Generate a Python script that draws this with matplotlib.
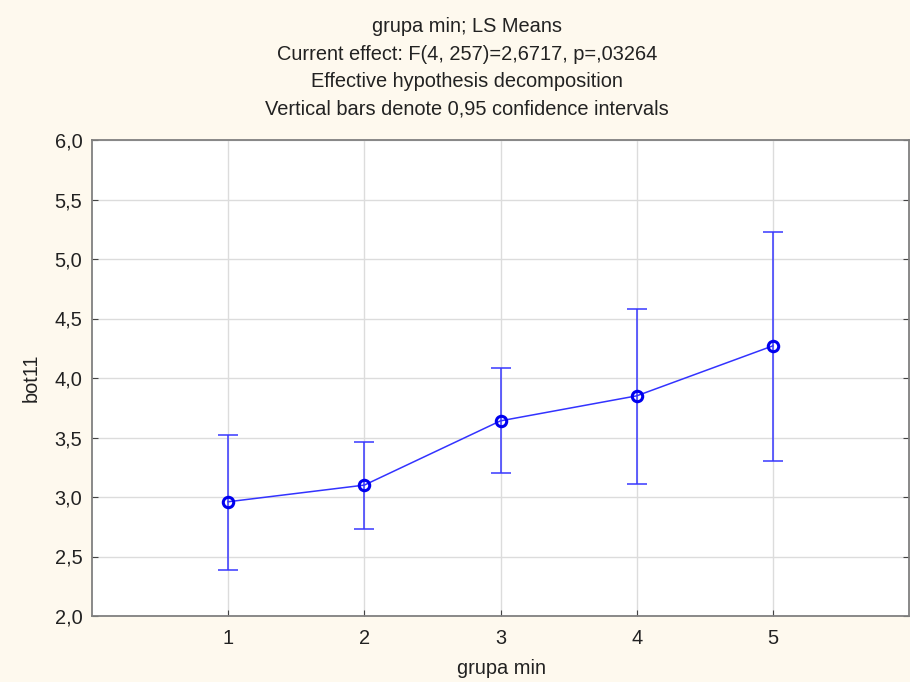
import matplotlib
matplotlib.use("Agg")
import matplotlib.pyplot as plt
from matplotlib.ticker import FuncFormatter

groups = [1, 2, 3, 4, 5]
means = [2.96, 3.10, 3.64, 3.85, 4.27]
upper = [3.52, 3.46, 4.08, 4.58, 5.23]
lower = [2.39, 2.73, 3.20, 3.11, 3.30]

title_lines = ["grupa min; LS Means",
               "Current effect: F(4, 257)=2,6717, p=,03264",
               "Effective hypothesis decomposition",
               "Vertical bars denote 0,95 confidence intervals"]

plt.rcParams['font.family'] = ['Liberation Sans', 'DejaVu Sans']
FS = 14.4

fig = plt.figure(figsize=(9.1, 6.82), dpi=100)
fig.patch.set_facecolor('#FEF9EE')
ax = fig.add_axes([92/910, 1 - 616/682, (909-92)/910, (616-140)/682])
ax.set_facecolor('white')

yerr = [[m - l for m, l in zip(means, lower)], [u - m for m, u in zip(means, upper)]]
ax.errorbar(groups, means, yerr=yerr, fmt='none', ecolor='#3838FF', elinewidth=1.1,
            capsize=7, capthick=1.1, zorder=3)
ax.plot(groups, means, color='#3333FF', lw=1.1, zorder=4)
ax.plot(groups, means, 'o', ms=7.5, mfc='none', mec='#0000EE', mew=2.2, ls='none', zorder=5)

ax.set_xlim(0, 6)
ax.set_ylim(2.0, 6.0)
ax.set_xticks(groups)
ax.set_yticks([2.0, 2.5, 3.0, 3.5, 4.0, 4.5, 5.0, 5.5, 6.0])
ax.yaxis.set_major_formatter(FuncFormatter(lambda v, p: f"{v:.1f}".replace('.', ',')))
ax.grid(True, color='#DCDCDC', lw=1.0)
ax.set_axisbelow(True)
ax.tick_params(direction='in', length=4, color='#444444', labelsize=FS, labelcolor='#222222',
               right=True, top=False)
ax.tick_params(axis='y', pad=7)
ax.tick_params(axis='x', pad=9)
for s in ax.spines.values():
    s.set_color('#808080')
    s.set_linewidth(1.3)

fig.text(501 / 910, 1 - 668 / 682, "grupa min", ha='center', va='center',
         fontsize=FS, color='#222222')
fig.text(31 / 910, 1 - 378 / 682, "bot11", ha='center', va='center', rotation=90,
         fontsize=FS, color='#222222')

for i, t in enumerate(title_lines):
    fig.text(467 / 910, 1 - (27 + 27.3 * i) / 682, t, ha='center', va='center',
             fontsize=FS, color='#222222')

fig.savefig("out.png", dpi=100, facecolor=fig.get_facecolor())
